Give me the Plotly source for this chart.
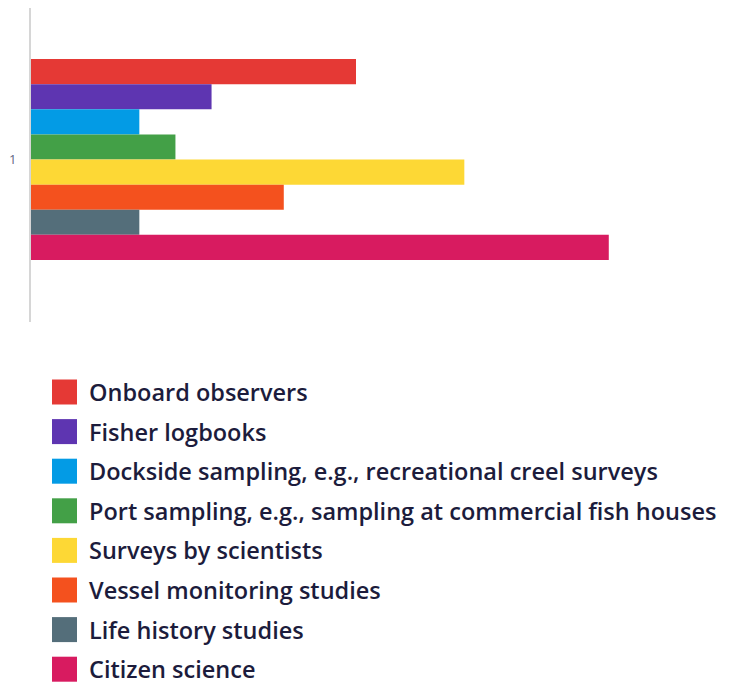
import plotly.graph_objects as go

category = ["1"]
series_names = [
    "Onboard observers",
    "Fisher logbooks",
    "Dockside sampling, e.g., recreational creel surveys",
    "Port sampling, e.g., sampling at commercial fish houses",
    "Surveys by scientists",
    "Vessel monitoring studies",
    "Life history studies",
    "Citizen science",
]
series_values = [9, 5, 3, 4, 12, 7, 3, 16]
series_colors = ["#e53935", "#5e35b1", "#039be5", "#43a047",
                 "#fdd835", "#f4511e", "#546e7a", "#d81b60"]

OFF = 8  # page body margin
W, H = 731 - OFF, 684 - OFF
L, R, T, B = 23, 50, 0, 362
pw, ph = W - L - R, H - T - B

fig = go.Figure()
for name, val, col in zip(series_names, series_values, series_colors):
    fig.add_trace(go.Bar(
        y=category, x=[val], name=name, orientation="h",
        marker=dict(color=col, line=dict(width=0)),
        showlegend=False,
    ))

# manual legend (large swatches), positions in page pixels
for i, (name, col) in enumerate(zip(series_names, series_colors)):
    cy = 392 + i * 39.6 - OFF
    y_paper = (H - B - cy) / ph
    fig.add_shape(type="rect", xref="paper", yref="paper",
                  x0=(52 - OFF - L) / pw, x1=(77 - OFF - L) / pw,
                  y0=y_paper - 12.5 / ph, y1=y_paper + 12.5 / ph,
                  fillcolor=col, line=dict(width=0))
    fig.add_annotation(xref="paper", yref="paper", x=(87 - OFF - L) / pw, y=y_paper,
                       text=name, showarrow=False, xanchor="left", yanchor="middle",
                       font=dict(family="Open Sans", size=23.5, weight=600, color="#1c1c3c"))

fig.update_layout(
    width=W, height=H,
    margin=dict(l=L, r=R, t=T, b=B),
    paper_bgcolor="white", plot_bgcolor="white",
    barmode="group", bargap=0.36, bargroupgap=0,
    xaxis=dict(range=[0, 18], visible=False, showgrid=False, zeroline=False),
    yaxis=dict(range=[0.5175, -0.4825], showgrid=False, zeroline=False,
               showline=True, linecolor="#d6d6d6", linewidth=2,
               ticks="outside", ticklen=10, tickcolor="rgba(0,0,0,0)",
               tickfont=dict(family="Open Sans", size=13, color="#5f6785")),
)

fig.write_html("out.html")
